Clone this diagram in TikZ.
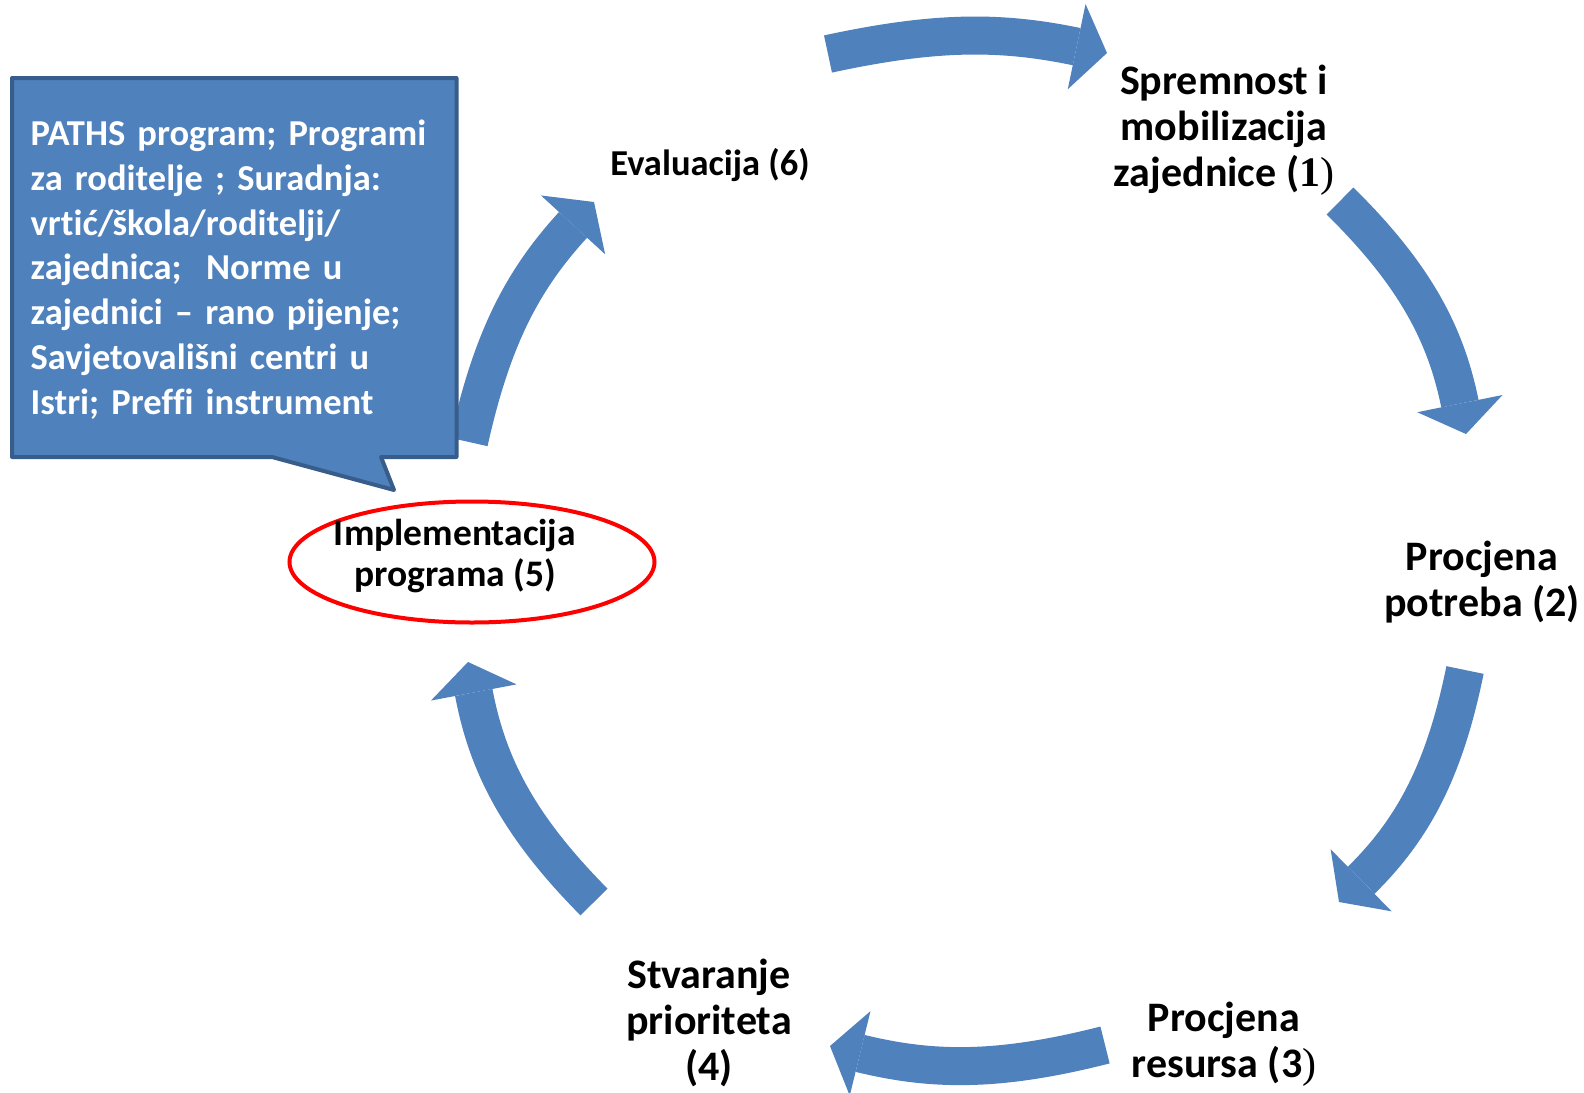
\documentclass[tikz,border=0pt]{standalone}
\usepackage{fontspec}
\setmainfont{Carlito}[RawFeature=-liga]
\newfontfamily\serifni{Liberation Serif}
\usepackage{xcolor}
\usepackage{tikz}
\usetikzlibrary{arrows.meta,shapes.geometric}

\definecolor{plava}{HTML}{4F81BD}
\definecolor{tamnoplava}{HTML}{385D8A}

\begin{document}
\begin{tikzpicture}[x=1pt,y=1pt]
% Stilovi
\tikzstyle{strelica}=[draw=plava,line width=38pt,-{Triangle[width=87pt,length=31pt,line width=0pt]}]
\tikzstyle{oznaka}=[align=center,inner sep=0pt,font=\bfseries\fontsize{42}{46}\selectfont]
\tikzstyle{oznakamala}=[align=center,inner sep=0pt,font=\bfseries\fontsize{37.5}{41}\selectfont]
\tikzstyle{okvir}=[fill=plava,draw=tamnoplava,line width=4pt,line join=round]
\tikzstyle{tekstokvir}=[text=white,align=left,text width=410pt,inner sep=0pt,font=\bfseries\fontsize{36.5}{44.8}\selectfont]
\tikzstyle{elipsa}=[ellipse,draw=red,line width=4pt,minimum width=365pt,minimum height=121pt]
% Okvir slike
\path[fill=white,use as bounding box] (0,0) rectangle (1584,-1092);
% Krajevi strelica
\coordinate (p1) at (828,-54);    \coordinate (k1) at (1107,-53);
\coordinate (p2) at (1340,-201);  \coordinate (k2) at (1466,-434);
\coordinate (p3) at (1465,-670);  \coordinate (k3) at (1339,-902);
\coordinate (p4) at (1105,-1045); \coordinate (k4) at (830,-1046);
\coordinate (p5) at (594,-902);   \coordinate (k5) at (468,-662);
\coordinate (p6) at (469,-442);   \coordinate (k6) at (594,-202);
% Strelice
\draw[strelica] (p1) to[bend left=12] (k1);
\draw[strelica] (p2) to[bend left=17] (k2);
\draw[strelica] (p3) to[bend left=17] (k3);
\draw[strelica] (p4) to[bend left=14] (k4);
\draw[strelica] (p5) to[bend left=17] (k5);
\draw[strelica] (p6) to[bend left=15] (k6);
% Oblacic s napomenom
\filldraw[okvir] (12,-78) -- (456.5,-78) -- (456.5,-457) -- (381,-457)
  -- (394,-490) -- (272,-457) -- (12,-457) -- cycle;
\node[tekstokvir] (napomena) at (235.7,-269.5) {PATHS program; Programi\\
  za roditelje ; Suradnja:\\
  vrtić/škola/roditelji/\\
  zajednica;~ Norme u\\
  zajednici -- rano pijenje;\\
  Savjetovališni centri u\\
  Istri; Preffi instrument};
% Cvorovi
\node[elipsa] (krug) at (472,-562) {};
\node[oznaka] (spremnost) at (1224,-130) {Spremnost i\\mobilizacija\\zajednice ({\serifni 1\mdseries )}};
\node[oznaka] (potrebe) at (1482,-582) {Procjena\\potreba (2)};
\node[oznaka] (resursi) at (1224,-1044) {Procjena\\resursa (3{\serifni\mdseries )}};
\node[oznaka] (prioriteti) at (709,-1023) {Stvaranje\\prioriteta\\(4)};
\node[oznakamala] (implementacija) at (455,-556) {Implementacija\\programa (5)};
\node[oznakamala,font=\bfseries\fontsize{36.5}{41}\selectfont] (evaluacija) at (710,-165) {Evaluacija (6)};
\end{tikzpicture}
\end{document}
